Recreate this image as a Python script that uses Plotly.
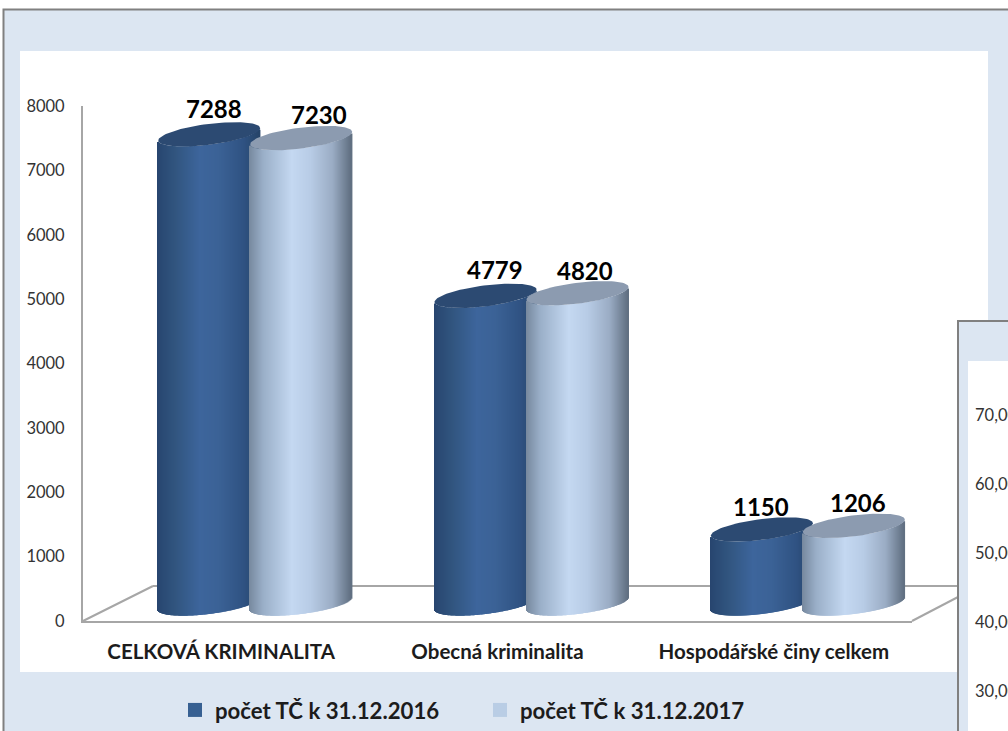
import math
import plotly.graph_objects as go

# ---- data ----
categories = ["CELKOVÁ KRIMINALITA", "Obecná kriminalita", "Hospodářské činy celkem"]
series_names = ["počet TČ k 31.12.2016", "počet TČ k 31.12.2017"]
values_2016 = [7288, 4779, 1150]
values_2017 = [7230, 4820, 1206]
y_ticks = [0, 1000, 2000, 3000, 4000, 5000, 6000, 7000, 8000]
other_chart_ticks = ["70,00", "60,00", "50,00", "40,00", "30,00"]

# ---- layout constants (pixels in the 1008x731 page) ----
W, H = 1008, 731
AX_L, AX_R, AX_T, AX_B = 83, 912, 106, 621
CAT_PX = (AX_R - AX_L) / 3
PPU = (AX_B - AX_T) / 8000      # pixels per value unit
DEPTH_PX = 17.5                 # cylinders stand behind the front axis
SHIFT_PX = [34 - 46, 34 + 46]   # cylinder centre from category centre
HALF_W = 51
TILT = 6.2
MINOR = 10.5
FONT = "Lato"
INK = "#1c1c1c"
PANEL = "#dce6f2"
FRAME = "#808080"
FLOOR = "#a6a6a6"

STOPS = [
    [(0.0, "#27456f"), (0.18, "#31557f"), (0.42, "#3d659c"), (0.6, "#3b6296"), (0.85, "#2f5282"), (1.0, "#264468")],
    [(0.0, "#76889e"), (0.14, "#9aafc8"), (0.42, "#c4d8f1"), (0.6, "#b8cce6"), (0.82, "#9aacc4"), (1.0, "#5f6e80")],
]
CAP = ["#2c4a72", "#8c9bb0"]
SWATCH = ["#376092", "#b9cde5"]
LABEL_SHIFT = [[(5, 26), (18, 24)], [(9, 26), (7, 23)], [(-1, 23), (4, 23)]]


def px_x(p):
    return p / W


def px_y(p):
    return 1 - p / H


def grad(stops, f):
    for (a, ca), (b, cb) in zip(stops, stops[1:]):
        if f <= b:
            k = (f - a) / (b - a)
            ch = [round(int(ca[i:i + 2], 16) * (1 - k) + int(cb[i:i + 2], 16) * k) for i in (1, 3, 5)]
            return "rgb(%d,%d,%d)" % tuple(ch)
    return stops[-1][1]


fig = go.Figure()
caps = []
for s, vals in enumerate([values_2016, values_2017]):
    for i, v in enumerate(vals):
        cx = i + 0.5 + SHIFT_PX[s] / CAT_PX
        xs, bases, cols = [], [], []
        for k in range(2 * HALF_W):
            u = (k + 0.5 - HALF_W) / HALF_W
            xs.append(cx + u * HALF_W / CAT_PX)
            bases.append((DEPTH_PX + TILT * u - MINOR * math.sqrt(1 - u * u)) / PPU)
            cols.append(grad(STOPS[s], (k + 0.5) / (2 * HALF_W)))
        fig.add_bar(x=xs, y=[v] * len(xs), base=bases, width=1.5 / CAT_PX,
                    marker=dict(color=cols, line=dict(width=0)),
                    showlegend=False, hoverinfo="skip")
        cap_x, cap_y = [], []
        for d in range(0, 361, 4):
            t = math.radians(d)
            cap_x.append(cx + HALF_W * math.cos(t) / CAT_PX)
            cap_y.append(v + (DEPTH_PX + TILT * math.cos(t) + MINOR * math.sin(t)) / PPU)
        caps.append(go.Scatter(x=cap_x, y=cap_y, mode="lines", fill="toself",
                               fillcolor=CAP[s], line=dict(width=0, color=CAP[s]),
                               showlegend=False, hoverinfo="skip"))
for c in caps:
    fig.add_trace(c)

for s, name in enumerate(series_names):
    fig.add_trace(go.Scatter(x=[None], y=[None], mode="markers", name=name,
                             marker=dict(symbol="square", size=14, color=SWATCH[s])))

ann = []
for s, vals in enumerate([values_2016, values_2017]):
    for i, v in enumerate(vals):
        dx, dy = LABEL_SHIFT[i][s]
        ann.append(dict(x=i + 0.5 + SHIFT_PX[s] / CAT_PX, y=v + DEPTH_PX / PPU, text=str(v),
                        xref="x", yref="y", showarrow=False, xshift=dx, yshift=dy,
                        font=dict(family=FONT, size=24, color="#000000", weight="bold")))
for n, t in enumerate(other_chart_ticks):
    ann.append(dict(x=px_x(973), y=px_y(415 + 69 * n), text=t, xref="paper", yref="paper",
                    xanchor="left", yanchor="middle", showarrow=False,
                    font=dict(family=FONT, size=16.5, color="#333333")))


def rect(x0, y0, x1, y1, fill, line=None, lw=0):
    return dict(type="rect", xref="paper", yref="paper", x0=px_x(x0), x1=px_x(x1),
                y0=px_y(y1), y1=px_y(y0), fillcolor=fill, layer="below",
                line=dict(color=line or fill, width=lw))


def seg(x0, y0, x1, y1):
    return dict(type="line", xref="paper", yref="paper", x0=px_x(x0), x1=px_x(x1),
                y0=px_y(y0), y1=px_y(y1), layer="below", line=dict(color=FLOOR, width=2))


shapes = [
    rect(3.5, 9.5, 1020, 745, PANEL, FRAME, 2),
    rect(20, 51, 988, 672, "#ffffff"),
    seg(AX_L, AX_B, 153, 586),
    seg(153, 586, 958, 586),
    seg(AX_R, AX_B, 958, 597),
    rect(958, 321, 1020, 745, PANEL, FRAME, 2),
    rect(968, 361, 1020, 745, "#ffffff"),
]

fig.update_layout(
    width=W, height=H, margin=dict(l=0, r=0, t=0, b=0, autoexpand=False),
    paper_bgcolor="#ffffff", plot_bgcolor="rgba(0,0,0,0)",
    barmode="overlay", shapes=shapes, annotations=ann, hovermode=False,
    xaxis=dict(domain=[px_x(AX_L), px_x(AX_R)], range=[0, 3], tickmode="array",
               tickvals=[0.5, 1.5, 2.5], ticktext=categories, showgrid=False, zeroline=False,
               showline=True, linecolor=FLOOR, linewidth=2, ticks="", ticklabelstandoff=11,
               tickfont=dict(family=FONT, size=20.5, color=INK, weight="bold")),
    yaxis=dict(domain=[px_y(AX_B), px_y(AX_T)], range=[0, 8000], tickmode="array",
               tickvals=y_ticks, showgrid=False, zeroline=False, showline=True,
               linecolor=FLOOR, linewidth=2, ticks="", ticklabelstandoff=13,
               tickfont=dict(family=FONT, size=16.5, color="#333333")),
    legend=dict(orientation="h", x=px_x(175), y=px_y(710), xanchor="left", yanchor="middle",
                bgcolor="rgba(0,0,0,0)", entrywidth=260, entrywidthmode="pixels",
                font=dict(family=FONT, size=22.2, color=INK, weight="bold")),
)

fig.write_html("out.html", config=dict(displayModeBar=False),
               post_script="document.body.style.margin='0';")
